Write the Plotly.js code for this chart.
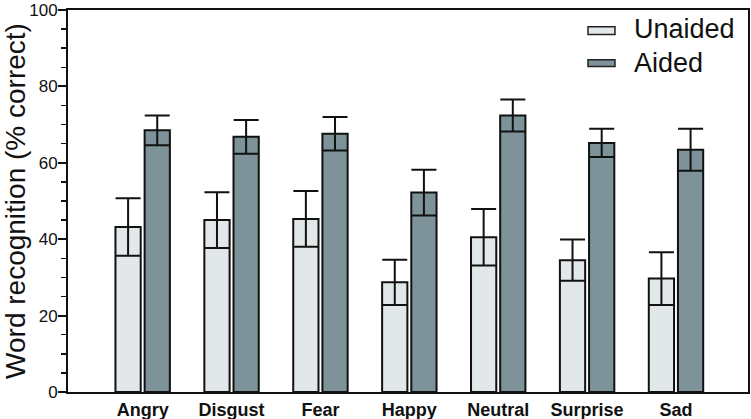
<!DOCTYPE html>
<html>
<head>
<meta charset="utf-8">
<script src="https://cdn.plot.ly/plotly-3.0.1.min.js"></script>
<style>html,body{margin:0;padding:0;background:#fff;}#chart{width:751px;height:419px;}</style>
</head>
<body>
<div id="chart"></div>
<script>
const categories = ["Angry", "Disgust", "Fear", "Happy", "Neutral", "Surprise", "Sad"];
const unaided = [43.2, 45.0, 45.3, 28.7, 40.5, 34.5, 29.7];
const unaidedErr = [7.5, 7.3, 7.3, 5.9, 7.4, 5.4, 6.9];
const aided = [68.5, 66.8, 67.6, 52.2, 72.4, 65.2, 63.4];
const aidedErr = [3.9, 4.4, 4.4, 6.0, 4.2, 3.7, 5.5];
const yTicks = [0, 20, 40, 60, 80, 100];
const seriesNames = ["Unaided", "Aided"];
const seriesColors = ["#e2e8ea", "#7d9299"];

const font = "Liberation Sans, Arial, Helvetica, sans-serif";
const errStyle = {type: "data", visible: true, color: "#111", thickness: 2, width: 12.5};

const traces = [
  {type: "bar", name: seriesNames[0], x: categories, y: unaided,
   error_y: Object.assign({array: unaidedErr}, errStyle),
   marker: {color: seriesColors[0], line: {color: "#111", width: 2}}},
  {type: "bar", name: seriesNames[1], x: categories, y: aided,
   error_y: Object.assign({array: aidedErr}, errStyle),
   marker: {color: seriesColors[1], line: {color: "#111", width: 2}}}
];

// custom legend (wide flat swatches like the original)
const legendRows = [
  {text: seriesNames[0], color: seriesColors[0], yMid: 0.950, y0: 0.936, y1: 0.956},
  {text: seriesNames[1], color: seriesColors[1], yMid: 0.862, y0: 0.852, y1: 0.870}
];
const shapes = legendRows.map(r => ({type: "rect", xref: "paper", yref: "paper",
  x0: 0.7647, x1: 0.8044, y0: r.y0, y1: r.y1,
  fillcolor: r.color, line: {color: "#222", width: 1.5}}));
const annotations = legendRows.map(r => ({xref: "paper", yref: "paper",
  x: 0.829, y: r.yMid, xanchor: "left", yanchor: "middle", showarrow: false,
  text: r.text, font: {size: 27, family: font, color: "#111"}}));

const layout = {
  width: 751, height: 419,
  margin: {l: 68, r: 3, t: 10, b: 27},
  paper_bgcolor: "#fff", plot_bgcolor: "#fff",
  font: {family: font, color: "#111"},
  barmode: "group", bargap: 0.344, bargroupgap: 0.134,
  showlegend: false,
  shapes: shapes,
  annotations: annotations,
  xaxis: {type: "category", range: [-0.84, 6.81], showline: true, linecolor: "#111", linewidth: 2,
          mirror: true, ticks: "", showgrid: false, zeroline: false,
          tickfont: {size: 18, family: font, weight: "bold", color: "#111"}},
  yaxis: {range: [0, 100], tickvals: yTicks, ticktext: yTicks.map(String),
          ticklabeloverflow: "allow", ticklabelstandoff: -3,
          showline: true, linecolor: "#111", linewidth: 2, mirror: true,
          ticks: "outside", ticklen: 8, tickwidth: 2, tickcolor: "#111",
          minor: {dtick: 5, ticks: "outside", ticklen: 5, tickwidth: 1.5, tickcolor: "#111", showgrid: false},
          showgrid: false, zeroline: false,
          tickfont: {size: 17, family: font, color: "#111"},
          title: {text: "Word recognition (% correct)", font: {size: 28, family: font, color: "#111"}, standoff: 0}}
};

Plotly.newPlot("chart", traces, layout, {displayModeBar: false, staticPlot: true});
</script>
</body>
</html>
